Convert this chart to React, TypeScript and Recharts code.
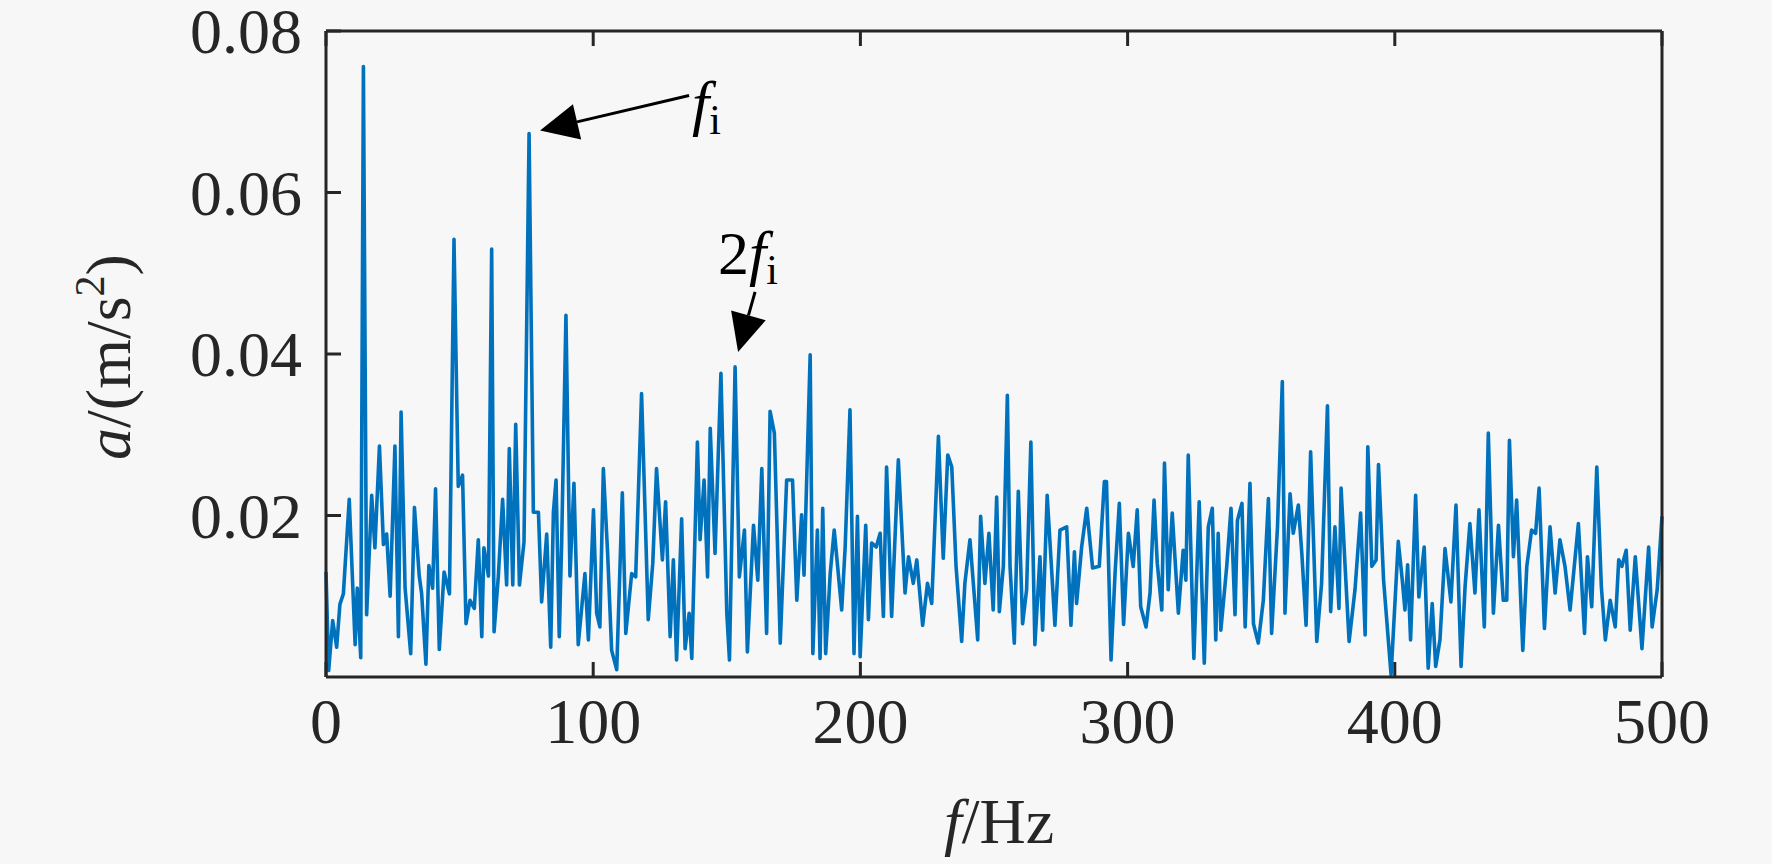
import {
  LineChart,
  Line,
  XAxis,
  YAxis,
  ReferenceDot,
} from "recharts";

// amplitude spectrum: [frequency Hz, amplitude in 1e-4 m/s^2]
const band0: [number, number][] = [
  [0, 130], [1.0, 8], [2.5, 70], [4.0, 37], [5.2, 90], [6.5, 103], [8.7, 220], [10.9, 40],
  [11.7, 110], [13.0, 24], [14.0, 756], [15.2, 77], [17.1, 225], [18.3, 160], [20.0, 286],
  [21.5, 164], [22.7, 177], [24.0, 100], [25.8, 286], [27.1, 50], [28.1, 328], [29.6, 110],
  [31.7, 29], [33.1, 210], [34.9, 125], [35.8, 103], [37.4, 16], [38.5, 138], [39.9, 110],
  [41.0, 233], [42.4, 34], [44.2, 130], [46.2, 103], [47.9, 542], [49.5, 236], [51.1, 250],
  [52.4, 66], [53.9, 95], [55.5, 85], [57.0, 170], [58.3, 50], [59.1, 160], [60.8, 125],
  [62.0, 530], [62.9, 56], [64.5, 125], [66.1, 220], [67.6, 114], [68.6, 283], [69.9, 114],
  [71.0, 313], [72.4, 114], [74.1, 167], [76.0, 673], [77.6, 204], [79.5, 204], [80.7, 93],
  [82.6, 177], [84.1, 37], [85.1, 204], [86.1, 244], [87.3, 50], [88.2, 167], [89.8, 448],
  [91.3, 125], [92.8, 240], [94.4, 40],
];

const band100: [number, number][] = [
  [96.9, 128], [98.2, 46], [100.1, 207], [101.3, 79], [102.5, 62], [103.8, 258], [105.4, 153],
  [106.9, 33], [108.8, 9], [110.9, 228], [112.2, 54], [114.4, 128], [115.9, 124], [118.1, 351],
  [120.6, 71], [122.3, 141], [123.7, 258], [125.9, 145], [127.1, 217], [128.8, 50], [130.0, 145],
  [131.2, 21], [133.1, 196], [134.4, 35], [135.9, 79], [136.9, 23], [139.0, 291], [140.0, 170],
  [141.5, 244], [142.8, 124], [143.8, 308], [145.6, 153], [147.8, 376], [150.0, 79], [151.0, 21],
  [153.1, 384], [154.7, 124], [156.6, 182], [157.7, 31], [160.0, 188], [161.6, 120], [163.1, 258],
  [164.9, 54], [166.2, 329], [167.8, 302], [170.0, 42], [172.4, 244], [174.6, 244], [176.2, 95],
  [178.0, 201], [178.9, 126], [181.2, 399], [182.2, 29], [183.9, 182], [184.9, 23], [185.9, 209],
  [187.0, 29], [188.7, 128], [190.2, 182], [193.0, 83], [194.3, 161], [196.1, 331],
];

const band200: [number, number][] = [
  [197.6, 29], [198.9, 199], [199.9, 25], [202.0, 188], [203.0, 71], [204.2, 166], [205.9, 161],
  [207.4, 178], [208.6, 75], [209.8, 260], [211.7, 75], [214.2, 269], [216.7, 104], [218.0, 149],
  [219.8, 116], [221.1, 145], [223.3, 64], [225.1, 116], [226.7, 91], [229.2, 298], [231.0, 147],
  [232.7, 275], [234.2, 260], [235.8, 137], [237.9, 44], [239.1, 116], [241.0, 170], [243.9, 46],
  [245.0, 199], [246.6, 116], [248.1, 178], [249.7, 83], [251.0, 223], [252.0, 81], [253.5, 137],
  [255.0, 349], [256.0, 137], [257.6, 42], [259.1, 230], [260.7, 66], [262.2, 108], [263.8, 291],
  [265.3, 40], [267.2, 149], [268.2, 58], [269.9, 225], [272.8, 64], [274.7, 182], [277.2, 186],
  [278.8, 64], [280.1, 155], [280.9, 91], [282.8, 161], [284.7, 209], [286.9, 135], [289.4, 137],
  [291.3, 242], [292.1, 242], [293.8, 21], [295.3, 128], [296.9, 215], [298.5, 65],
];

const band300: [number, number][] = [
  [300.3, 178], [302.1, 137], [303.6, 207], [304.9, 87], [306.9, 62], [308.4, 104], [309.9, 219],
  [311.1, 141], [312.8, 83], [313.8, 265], [315.2, 108], [316.7, 203], [319.0, 79], [320.8, 157],
  [321.8, 120], [322.7, 275], [324.8, 23], [326.8, 217], [328.7, 17], [330.2, 186], [331.7, 209],
  [333.0, 46], [333.9, 178], [334.9, 58], [337.1, 137], [338.7, 209], [340.2, 77], [341.1, 194],
  [342.8, 215], [344.0, 62], [345.8, 240], [347.1, 66], [348.9, 42], [350.8, 95], [352.7, 221],
  [353.9, 54], [356.1, 186], [357.9, 366], [358.9, 79], [360.8, 227], [362.0, 178], [363.9, 213],
  [365.2, 153], [366.8, 64], [368.5, 279], [370.8, 44], [372.6, 116], [374.8, 336], [376.0, 81],
  [377.6, 186], [379.1, 85], [379.9, 234], [381.4, 137], [382.9, 44], [385.1, 108], [387.2, 203],
  [388.9, 52], [389.9, 285], [391.4, 137], [393.0, 145], [393.9, 263], [395.8, 120], [398.6, 3],
];

const band400: [number, number][] = [
  [401.3, 168], [402.8, 120], [403.8, 83], [404.8, 139], [405.9, 46], [407.8, 225], [409.0, 99],
  [411.0, 161], [412.5, 11], [414.0, 91], [415.3, 13], [416.9, 46], [418.8, 159], [421.0, 93],
  [422.9, 213], [424.8, 13], [426.3, 112], [428.1, 190], [430.0, 104], [431.5, 207], [433.5, 62],
  [435.0, 302], [436.9, 79], [438.8, 188], [440.6, 95], [441.9, 95], [442.9, 293], [444.4, 149],
  [445.6, 219], [447.9, 33], [449.4, 137], [451.2, 182], [452.7, 178], [454.0, 234], [456.0, 60],
  [458.1, 186], [460.0, 104], [461.8, 170], [463.7, 137], [465.6, 83], [468.7, 190], [471.0, 54],
  [472.1, 149], [473.7, 87], [475.6, 260], [477.3, 112], [478.8, 46], [480.6, 95], [482.5, 62],
  [483.8, 145], [485.0, 137], [486.6, 157], [488.1, 58], [490.0, 149], [492.5, 35], [495.0, 161],
  [496.3, 62], [498.2, 108], [500, 199],
];

const xTicks = [0, 100, 200, 300, 400, 500];
const yTicks = [0.02, 0.04, 0.06, 0.08];
const fiFreq = 76.0;
const twoFiFreq = 153.1;

const data = [...band0, ...band100, ...band200, ...band300, ...band400].map(([f, a]) => ({
  f,
  a: a / 10000,
}));
const ampAt = (f: number) => data.find((d) => d.f === f)!.a;

const SERIF = "'Liberation Serif', 'Times New Roman', serif";
const AXIS = "#262626";
const TICK = 15;

const BottomTick = ({ x, y, payload }: any) => (
  <g>
    <line x1={x} x2={x} y1={y} y2={y - TICK} stroke={AXIS} strokeWidth={3} />
    <text x={x} y={y + 66} textAnchor="middle" fontSize={64} fontFamily={SERIF} fill={AXIS}>
      {payload.value}
    </text>
  </g>
);
const TopTick = ({ x, y }: any) => (
  <line x1={x} x2={x} y1={y} y2={y + TICK} stroke={AXIS} strokeWidth={3} />
);
const LeftTick = ({ x, y, payload }: any) => (
  <g>
    <line x1={x} x2={x + TICK} y1={y} y2={y} stroke={AXIS} strokeWidth={3} />
    <text x={x - 24} y={y + 22} textAnchor="end" fontSize={64} fontFamily={SERIF} fill={AXIS}>
      {payload.value.toFixed(2)}
    </text>
  </g>
);
const RightTick = ({ x, y }: any) => (
  <line x1={x} x2={x - TICK} y1={y} y2={y} stroke={AXIS} strokeWidth={3} />
);

function Arrow({ tip, tail }: { tip: [number, number]; tail: [number, number] }) {
  const dx = tail[0] - tip[0];
  const dy = tail[1] - tip[1];
  const d = Math.hypot(dx, dy);
  const ux = dx / d;
  const uy = dy / d;
  const len = 38;
  const half = 18;
  const bx = tip[0] + ux * len;
  const by = tip[1] + uy * len;
  const pts = [
    [tip[0], tip[1]],
    [bx - uy * half, by + ux * half],
    [bx + uy * half, by - ux * half],
  ]
    .map((p) => p.join(","))
    .join(" ");
  return (
    <g>
      <line x1={tail[0]} y1={tail[1]} x2={bx} y2={by} stroke="#000" strokeWidth={3} />
      <polygon points={pts} fill="#000" />
    </g>
  );
}

const FiNote = ({ cx, cy }: any) => (
  <g>
    <Arrow tip={[cx + 11, cy - 3]} tail={[cx + 160, cy - 38]} />
    <text x={cx + 163} y={cy - 10} fontSize={62} fontFamily={SERIF} fill="#000">
      <tspan fontStyle="italic">f</tspan>
      <tspan fontSize={42} dy={10}>i</tspan>
    </text>
  </g>
);

const TwoFiNote = ({ cx, cy }: any) => (
  <g>
    <Arrow tip={[cx + 3, cy - 15]} tail={[cx + 20, cy - 75]} />
    <text x={cx - 17} y={cy - 93} fontSize={62} fontFamily={SERIF} fill="#000">
      <tspan>2</tspan>
      <tspan fontStyle="italic">f</tspan>
      <tspan fontSize={42} dy={10}>i</tspan>
    </text>
  </g>
);

const XTitle = ({ viewBox }: any) => (
  <text
    x={viewBox.x + viewBox.width / 2 + 5}
    y={viewBox.y + 166}
    textAnchor="middle"
    fontSize={64}
    fontFamily={SERIF}
    fill={AXIS}
  >
    <tspan fontStyle="italic">f</tspan>
    <tspan>/Hz</tspan>
  </text>
);

const YTitle = ({ viewBox }: any) => (
  <text
    transform={`translate(${viewBox.x + viewBox.width - 196},${viewBox.y + 326}) rotate(-90)`}
    textAnchor="middle"
    fontSize={64}
    fontFamily={SERIF}
    fill={AXIS}
  >
    <tspan fontStyle="italic">a</tspan>
    <tspan>/(m/s</tspan>
    <tspan fontSize={42} dy={-26}>2</tspan>
    <tspan dy={26}>)</tspan>
  </text>
);

export default function App() {
  return (
    <div
      style={{
        position: "absolute",
        left: 0,
        top: 0,
        width: 1772,
        height: 864,
        background: "#f7f7f7",
      }}
    >
      <LineChart
        width={1772}
        height={864}
        data={data}
        margin={{ top: 30, right: 109, bottom: 186, left: 325 }}
      >
        <XAxis
          xAxisId="b"
          dataKey="f"
          type="number"
          domain={[0, 500]}
          ticks={xTicks}
          interval={0}
          height={1}
          tickSize={0}
          tickMargin={0}
          tickLine={false}
          tick={<BottomTick />}
          axisLine={{ stroke: AXIS, strokeWidth: 3 }}
          label={{ content: (p: any) => <XTitle viewBox={p.viewBox} /> }}
        />
        <XAxis
          xAxisId="t"
          orientation="top"
          dataKey="f"
          type="number"
          domain={[0, 500]}
          ticks={xTicks}
          interval={0}
          height={1}
          tickSize={0}
          tickMargin={0}
          tickLine={false}
          tick={<TopTick />}
          axisLine={{ stroke: AXIS, strokeWidth: 3 }}
        />
        <YAxis
          yAxisId="l"
          type="number"
          domain={[0, 0.08]}
          ticks={yTicks}
          interval={0}
          width={1}
          tickSize={0}
          tickMargin={0}
          tickLine={false}
          tick={<LeftTick />}
          axisLine={{ stroke: AXIS, strokeWidth: 3 }}
          label={{ content: (p: any) => <YTitle viewBox={p.viewBox} /> }}
        />
        <YAxis
          yAxisId="r"
          orientation="right"
          type="number"
          domain={[0, 0.08]}
          ticks={yTicks}
          interval={0}
          width={1}
          tickSize={0}
          tickMargin={0}
          tickLine={false}
          tick={<RightTick />}
          axisLine={{ stroke: AXIS, strokeWidth: 3 }}
        />
        <Line
          xAxisId="b"
          yAxisId="l"
          dataKey="a"
          type="linear"
          stroke="#0072BD"
          strokeWidth={3.6}
          strokeLinejoin="round"
          dot={false}
          activeDot={false}
          isAnimationActive={false}
        />
        <ReferenceDot
          xAxisId="b"
          yAxisId="l"
          x={fiFreq}
          y={ampAt(fiFreq)}
          r={0}
          shape={(p: any) => <FiNote cx={p.cx} cy={p.cy} />}
        />
        <ReferenceDot
          xAxisId="b"
          yAxisId="l"
          x={twoFiFreq}
          y={ampAt(twoFiFreq)}
          r={0}
          shape={(p: any) => <TwoFiNote cx={p.cx} cy={p.cy} />}
        />
      </LineChart>
    </div>
  );
}
